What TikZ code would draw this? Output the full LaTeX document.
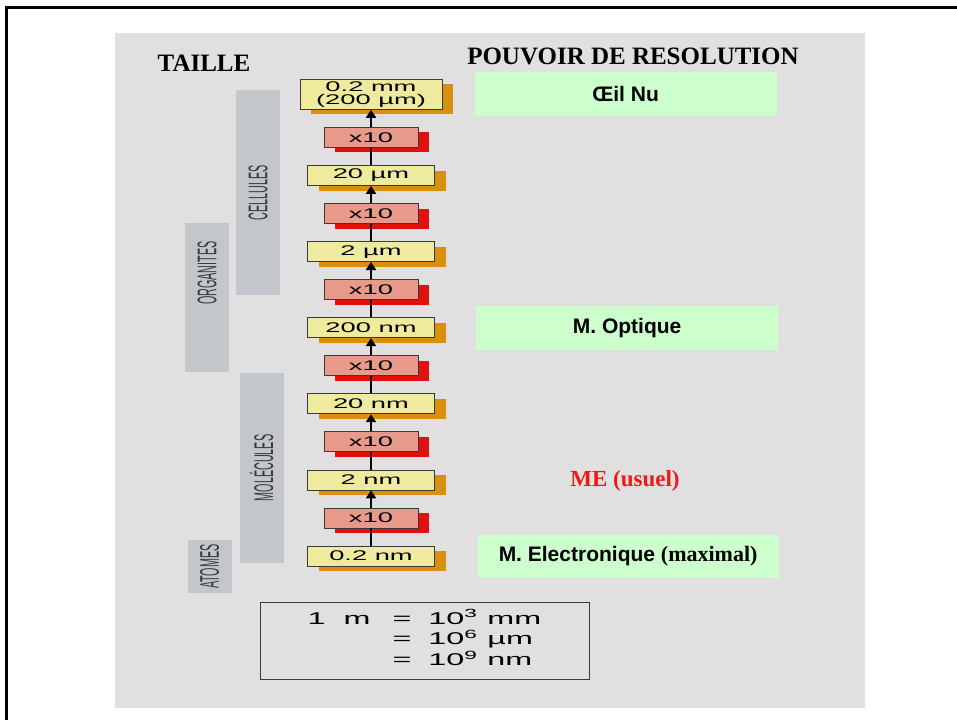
\documentclass[tikz,border=0pt]{standalone}
\usepackage{fontspec}
\setmainfont{Liberation Serif}
\setsansfont{Liberation Sans}
\newfontfamily\boxfont[FakeStretch=1.95]{Liberation Sans}
\newfontfamily\bandfont[FakeStretch=0.4]{Liberation Sans}
\newfontfamily\convfont[FakeStretch=1.9]{Liberation Sans}
\usepackage{xcolor}
\definecolor{cPanel} {HTML}{E0E0E0}
\definecolor{cGreen} {HTML}{CCFFCC}
\definecolor{cYellow}{HTML}{EEEA9E}
\definecolor{cOrange}{HTML}{D9900F}
\definecolor{cSalmon}{HTML}{E8998A}
\definecolor{cRed}   {HTML}{E31010}
\definecolor{cBand}  {HTML}{C3C7CB}
\definecolor{cInk}   {HTML}{3A3A3A}
\definecolor{cRedTxt}{HTML}{F01818}
\usepackage{tikz}
\usetikzlibrary{arrows.meta, positioning, shadows}
\tikzset{
  sz/.style   = {rectangle, draw=cInk, fill=cYellow, line width=0.8pt,
                 minimum width=127pt, minimum height=20pt, inner sep=0pt,
                 align=center, font=\boxfont\fontsize{14}{13.5}\selectfont,
                 drop shadow={shadow xshift=11pt, shadow yshift=-5pt,
                              fill=cOrange, opacity=1}},
  mul/.style  = {rectangle, draw=cInk, fill=cSalmon, line width=0.8pt,
                 minimum width=94pt, minimum height=20pt, inner sep=0pt,
                 font=\boxfont\fontsize{14}{13}\selectfont,
                 drop shadow={shadow xshift=11pt, shadow yshift=-5pt,
                              fill=cRed, opacity=1}},
  res/.style  = {rectangle, fill=cGreen, minimum width=302pt,
                 minimum height=44pt, inner sep=0pt,
                 font=\sffamily\bfseries\fontsize{21}{24}\selectfont},
  band/.style = {rectangle, fill=cBand, inner sep=0pt, minimum width=44pt},
  tag/.style  = {rotate=90, text=cInk, inner sep=0pt,
                 font=\bandfont\fontsize{27}{27}\selectfont},
  ttl/.style  = {font=\bfseries\fontsize{25}{30}\selectfont},
  conv/.style = {rectangle, draw=cInk, line width=0.8pt, inner sep=0pt,
                 minimum width=329pt, minimum height=77pt,
                 font=\convfont\fontsize{17}{20}\selectfont},
  arr/.style  = {-{Triangle[length=8pt, width=10pt]}, line width=2pt},
  lnk/.style  = {line width=2pt},
}

\begin{document}
\begin{tikzpicture}[x=1pt, y=-1pt, node distance=17.25pt]
  \useasboundingbox (0,0) rectangle (957,720);

  %% Frame and panel
  \draw[line width=3pt] (5,7.5) -- (957,7.5);
  \draw[line width=3pt] (6.5,6) -- (6.5,720);
  \fill[cPanel] (115,33) rectangle (865,708);

  %% Titles
  \node[ttl] (taille) at (204,63) {TAILLE};
  \node[ttl] (pouv)   at (633,56) {POUVOIR DE RESOLUTION};

  %% Scale bands
  \node[band, minimum height=205pt] (bcel) at (258,192.5)   {};
  \node[band, minimum height=149pt] (borg) at (207,297.5)   {};
  \node[band, minimum height=190pt] (bmol) at (261.5,468)   {};
  \node[band, minimum height=53pt]  (bato) at (209.5,566.5) {};
  \node[tag] (tcel) at (bcel)    {CELLULES};
  \node[tag] (torg) at (207,273) {ORGANITES};
  \node[tag] (tmol) at (bmol)    {MOLÉCULES};
  \node[tag] (tato) at (bato)    {ATOMES};

  %% Size ladder, bottom to top
  \node[sz] (s02nm) at (371,556) {0.2 nm};
  \node[mul, above=of s02nm]  (m1)     {x10};
  \node[sz,  above=of m1]     (s2nm)   {2 nm};
  \node[mul, above=of s2nm]   (m2)     {x10};
  \node[sz,  above=of m2]     (s20nm)  {20 nm};
  \node[mul, above=of s20nm]  (m3)     {x10};
  \node[sz,  above=of m3]     (s200nm) {200 nm};
  \node[mul, above=of s200nm] (m4)     {x10};
  \node[sz,  above=of m4]     (s2um)   {2 µm};
  \node[mul, above=of s2um]   (m5)     {x10};
  \node[sz,  above=of m5]     (s20um)  {20 µm};
  \node[mul, above=of s20um]  (m6)     {x10};
  \node[sz, minimum width=142pt, minimum height=30pt, above=of m6] (s02mm)
        {0.2 mm\\(200 µm)};

  \draw[lnk] (s02nm)  -- (m1);
  \draw[arr] (m1)     -- (s2nm);
  \draw[lnk] (s2nm)   -- (m2);
  \draw[arr] (m2)     -- (s20nm);
  \draw[lnk] (s20nm)  -- (m3);
  \draw[arr] (m3)     -- (s200nm);
  \draw[lnk] (s200nm) -- (m4);
  \draw[arr] (m4)     -- (s2um);
  \draw[lnk] (s2um)   -- (m5);
  \draw[arr] (m5)     -- (s20um);
  \draw[lnk] (s20um)  -- (m6);
  \draw[arr] (m6)     -- (s02mm);

  %% Resolving power
  \node[res, right=32pt of s02mm]    (oeil) {Œil Nu};
  \node[res, right=41pt of s200nm]   (opt)  {M. Optique};
  \node[font=\bfseries\fontsize{23}{26}\selectfont, text=cRedTxt]
        (meu) at (625,481) {ME (usuel)};
  \node[res, minimum width=301pt, minimum height=43pt,
        right=42.5pt of s02nm] (elec)
        {M. Electronique {\rmfamily\fontsize{22}{24}\selectfont (maximal)}};

  %% Unit conversion
  \node[conv] (unit) at (424.5,640.5) {%
    \begin{tabular}{@{}r@{\hspace{22pt}}l@{}}
      1\hspace{18pt}m & =\hspace{17pt}10\textsuperscript{3}\hspace{10pt}mm\\
                      & =\hspace{17pt}10\textsuperscript{6}\hspace{10pt}µm\\
                      & =\hspace{17pt}10\textsuperscript{9}\hspace{10pt}nm
    \end{tabular}};

\end{tikzpicture}
\end{document}
